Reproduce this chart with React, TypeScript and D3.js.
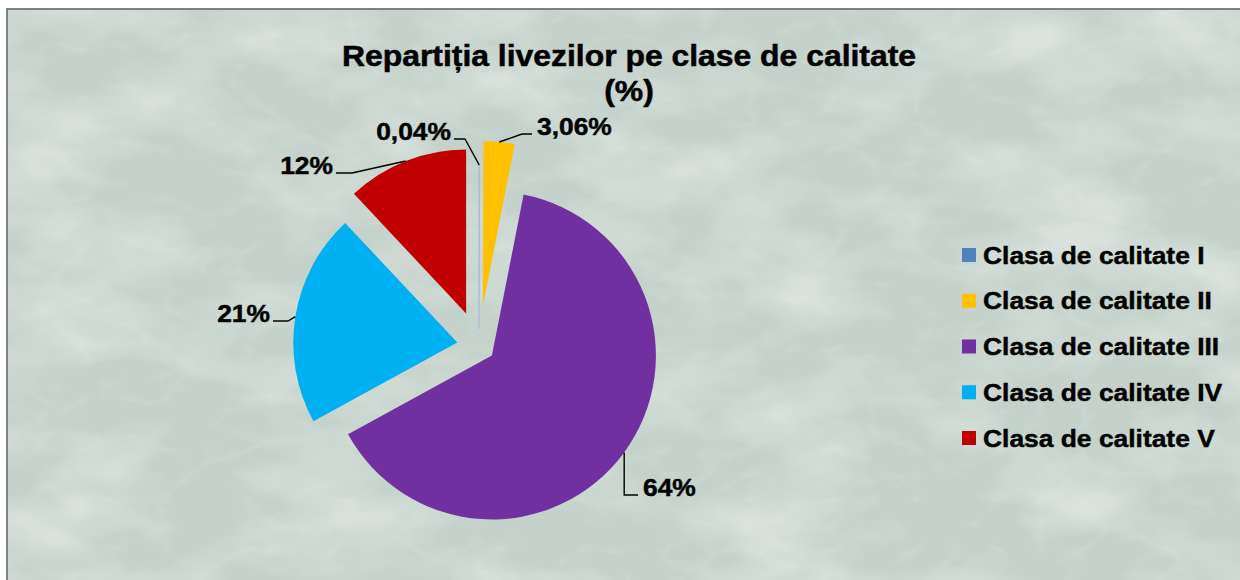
import React from 'react';
import * as d3 from 'd3';

const categories = [
  'Clasa de calitate I',
  'Clasa de calitate II',
  'Clasa de calitate III',
  'Clasa de calitate IV',
  'Clasa de calitate V'
];
const values = [0.04, 3.06, 64, 21, 12];
const valueLabels = ['0,04%', '3,06%', '64%', '21%', '12%'];
const colors = ['#4F81BD', '#FFC000', '#7030A0', '#00B0F0', '#C00000'];

// layout only
const explode = [17, 41, 16, 22, 35];
const labelLayout = [
  {x: 451, y: 140, anchor: 'end', elbowX: 465},
  {x: 537, y: 135, anchor: 'start', elbowX: 522},
  {x: 643, y: 496, anchor: 'start', elbowX: null},
  {x: 270, y: 322, anchor: 'end', elbowX: 288},
  {x: 333, y: 174, anchor: 'end', elbowX: 352}
];

const FONT = '"Liberation Sans", Arial, sans-serif';
const SX = 1.1;

function App() {
  const cx = 479;
  const cy = 346;
  const r = 164;

  const pie = d3.pie<number>().sort(null).value(d => d);
  const arcs = pie(values);
  const arc = d3.arc<d3.PieArcDatum<number>>().innerRadius(0).outerRadius(r);

  const legendY = d3.scalePoint<string>().domain(categories).range([255, 438]);

  return (
    <svg width={1240} height={580} style={{position: 'absolute', left: 0, top: 0}}>
      <defs>
        <filter id="marble" x="0" y="0" width="100%" height="100%">
          <feTurbulence type="fractalNoise" baseFrequency="0.007 0.014" numOctaves={4} seed={7} result="n"/>
          <feColorMatrix in="n" type="matrix"
            values="0 0 0 0 1  0 0 0 0 1  0 0 0 0 1  1.8 0 0 0 -0.75"/>
        </filter>
        <filter id="veins" x="0" y="0" width="100%" height="100%">
          <feTurbulence type="turbulence" baseFrequency="0.012 0.02" numOctaves={3} seed={2} result="t"/>
          <feColorMatrix in="t" type="matrix"
            values="0 0 0 0 1  0 0 0 0 1  0 0 0 0 1  -2.5 0 0 0 0.5"/>
        </filter>
      </defs>

      <rect x={7} y={9} width={1260} height={600} fill="#c5d2cb"/>
      <rect x={7} y={9} width={1260} height={600} filter="url(#marble)" opacity={0.5}/>
      <rect x={7} y={9} width={1260} height={600} filter="url(#veins)" opacity={0.2}/>
      <rect x={7} y={9} width={1260} height={600} fill="none" stroke="#808080" strokeWidth={2}/>

      <g fontFamily={FONT} fontWeight="bold" fill="#000" stroke="#000" strokeWidth={0.5}>
        <text transform={`translate(629,66) scale(${SX},1)`} textAnchor="middle" fontSize={29}>
          Repartiția livezilor pe clase de calitate
        </text>
        <text transform={`translate(629,101) scale(${SX},1)`} textAnchor="middle" fontSize={29}>
          (%)
        </text>
      </g>

      {arcs.map((a, i) => {
        const mid = (a.startAngle + a.endAngle) / 2;
        const dx = Math.sin(mid) * explode[i];
        const dy = -Math.cos(mid) * explode[i];
        return (
          <path key={i}
            d={arc(a) as string}
            transform={`translate(${cx + dx},${cy + dy})`}
            fill={colors[i]}
            stroke={i === 0 ? '#a9bdd3' : 'none'}
            strokeWidth={i === 0 ? 1.2 : 0}/>
        );
      })}

      {arcs.map((a, i) => {
        const mid = (a.startAngle + a.endAngle) / 2;
        const rr = r + explode[i];
        const px = cx + Math.sin(mid) * rr;
        const py = cy - Math.cos(mid) * rr;
        const L = labelLayout[i];
        const gap = L.anchor === 'end' ? 3 : -5;
        const tx = L.x + gap;
        const ly = L.y - 1;
        const pts: [number, number][] = L.elbowX === null
          ? [[px, py], [px, ly], [tx, ly]]
          : [[px, py], [L.elbowX, ly], [tx, ly]];
        return (
          <g key={'l' + i}>
            <path d={d3.line()(pts) as string} fill="none" stroke="#000" strokeWidth={1.4}/>
            <text transform={`translate(${L.x},${L.y}) scale(${SX},1)`}
              textAnchor={L.anchor as any}
              fontFamily={FONT} fontWeight="bold" fontSize={24} fill="#000"
              stroke="#000" strokeWidth={0.45}>
              {valueLabels[i]}
            </text>
          </g>
        );
      })}

      {categories.map((c, i) => {
        const y = legendY(c) as number;
        return (
          <g key={'lg' + i}>
            <rect x={962} y={y - 7} width={14} height={14} fill={colors[i]}/>
            <text transform={`translate(983,${y + 8.5}) scale(${SX},1)`}
              fontFamily={FONT} fontWeight="bold" fontSize={24} fill="#000"
              stroke="#000" strokeWidth={0.45}>
              {c}
            </text>
          </g>
        );
      })}
    </svg>
  );
}

export default App;
